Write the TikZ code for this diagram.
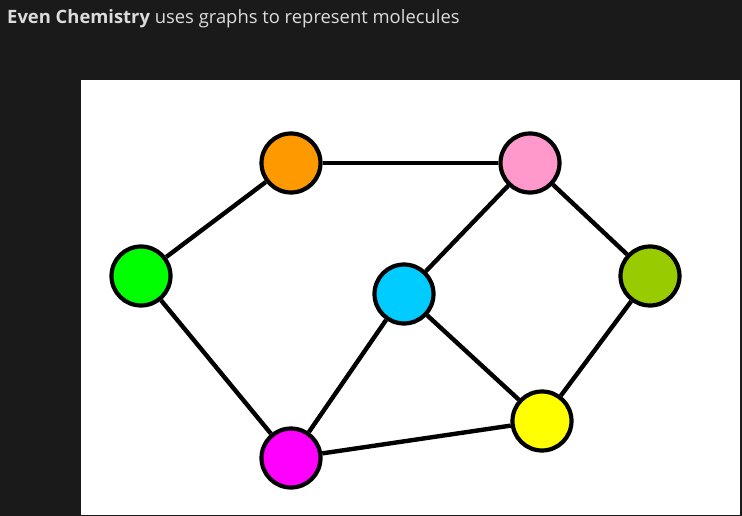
\documentclass[tikz,border=0pt]{standalone}
\usepackage{fontspec}
\setmainfont{Open Sans}
\usetikzlibrary{positioning}
\definecolor{darkbackground}{HTML}{1a1a1a}
\definecolor{titlegray}{HTML}{dcdcdc}
\definecolor{atomorange}{HTML}{ff9900}
\definecolor{atompink}{HTML}{ff99cc}
\definecolor{atomgreen}{HTML}{00ff00}
\definecolor{atomcyan}{HTML}{00ccff}
\definecolor{atomolive}{HTML}{99cc00}
\definecolor{atomyellow}{HTML}{ffff00}
\definecolor{atommagenta}{HTML}{ff00ff}
\tikzset{atom/.style={circle,draw=black,line width=4.2pt,minimum size=59pt,inner sep=0pt},
	bond/.style={line width=4.4pt,black}}

\begin{document}
\begin{tikzpicture}[x=1pt,y=-1pt]

    \useasboundingbox (0,0) rectangle (742,516);
    \fill[darkbackground] (0,0) rectangle (742,516);
    \fill[white] (81,80) rectangle (740,515);

    \node[anchor=base west,text=titlegray,font=\fontsize{18.4}{21}\selectfont,inner sep=0pt] (title) at (7,24)
        {\textbf{Even Chemistry} uses graphs to represent molecules};

    \node[atom,fill=atomorange] (orange) at (291,163) {};
    \node[atom,fill=atompink] (pink) at (530,163) {};
    \node[atom,fill=atomgreen] (green) at (141,276) {};
    \node[atom,fill=atomcyan] (cyan) at (404,294) {};
    \node[atom,fill=atomolive] (olive) at (650,276) {};
    \node[atom,fill=atomyellow] (yellow) at (542,421) {};
    \node[atom,fill=atommagenta] (magenta) at (291,458) {};

    \draw[bond] (orange) -- (pink);
    \draw[bond] (orange) -- (green);
    \draw[bond] (green) -- (magenta);
    \draw[bond] (magenta) -- (cyan);
    \draw[bond] (magenta) -- (yellow);
    \draw[bond] (cyan) -- (pink);
    \draw[bond] (cyan) -- (yellow);
    \draw[bond] (pink) -- (olive);
    \draw[bond] (olive) -- (yellow);
\end{tikzpicture}
\end{document}
